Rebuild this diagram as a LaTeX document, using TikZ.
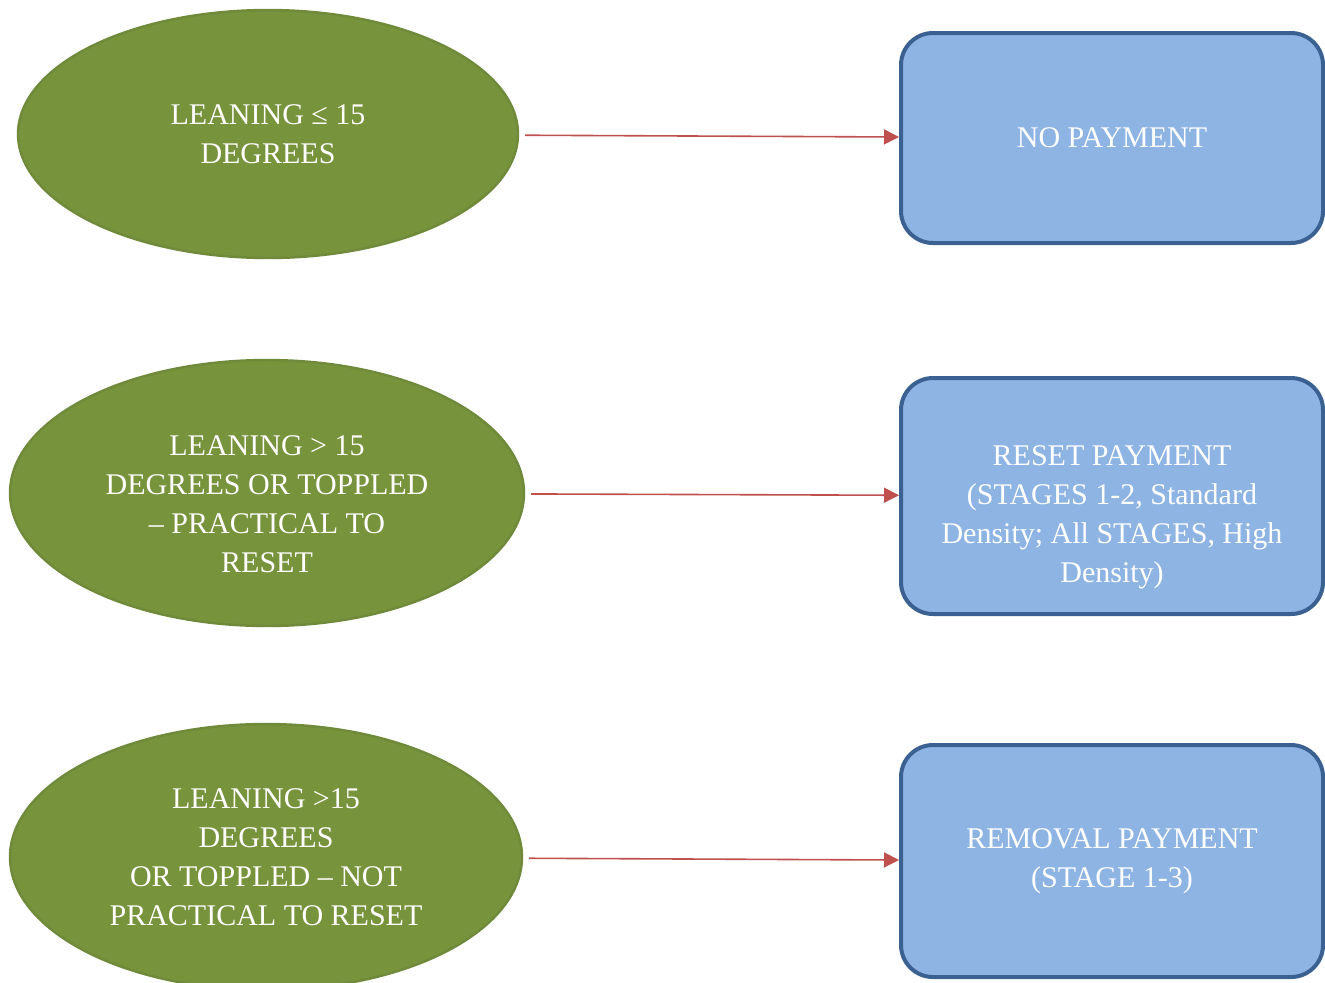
\documentclass[tikz,border=0pt]{standalone}
\usepackage{fontspec}
\setmainfont{Liberation Serif}
\usetikzlibrary{shapes.geometric,arrows.meta}
\definecolor{leafgreen}{HTML}{77933C}
\definecolor{leafedge}{HTML}{6E8A3A}
\definecolor{paybox}{HTML}{8EB4E3}
\definecolor{payedge}{HTML}{3B6092}
\definecolor{arrowred}{HTML}{C0504D}
\newcommand{\tfont}{\fontsize{15}{19.5}\selectfont}

\begin{document}
\begin{tikzpicture}[x=0.5pt,y=-0.5pt,
	cond/.style={ellipse,draw=leafedge,line width=1.2pt,fill=leafgreen,text=white,align=center,font=\tfont,inner sep=0pt},
	pay/.style={rectangle,rounded corners=16pt,draw=payedge,line width=2pt,fill=paybox,text=white,align=center,font=\tfont,minimum width=211pt},
	boxtext/.style={text=white,align=center,font=\tfont},
	toarrow/.style={draw=arrowred,line width=0.8pt,shorten <=3pt,-{Triangle[length=7.5pt,width=7.5pt]}}]
	\useasboundingbox (0,0) rectangle (1325,982);
	\clip (0,0) rectangle (1325,982);
	% conditions
	\node[cond,minimum width=250pt,minimum height=124pt] (e1) at (268,134) {LEANING ≤ 15\\DEGREES};
	\node[cond,minimum width=257pt,minimum height=133pt,
		label={[boxtext,yshift=-5.5pt]center:LEANING > 15\\DEGREES OR TOPPLED\\– PRACTICAL TO\\RESET}] (e2) at (267,493) {};
	\node[cond,minimum width=256pt,minimum height=133pt] (e3) at (266,857) {LEANING >15\\DEGREES\\OR TOPPLED – NOT\\PRACTICAL TO RESET};
	% payments
	\node[pay,minimum height=105pt] (b1) at (1112,138) {NO PAYMENT};
	\node[pay,minimum height=118pt,
		label={[boxtext,yshift=-10.5pt]center:RESET PAYMENT\\(STAGES 1-2, Standard\\Density; All STAGES, High\\Density)}] (b2) at (1112,496) {};
	\node[pay,minimum height=116pt] (b3) at (1112,861) {REMOVAL PAYMENT\\(STAGE 1-3)};
	\draw[toarrow] (e1) -- (b1);
	\draw[toarrow] (e2) -- (b2);
	\draw[toarrow] (e3) -- (b3);
\end{tikzpicture}
\end{document}
